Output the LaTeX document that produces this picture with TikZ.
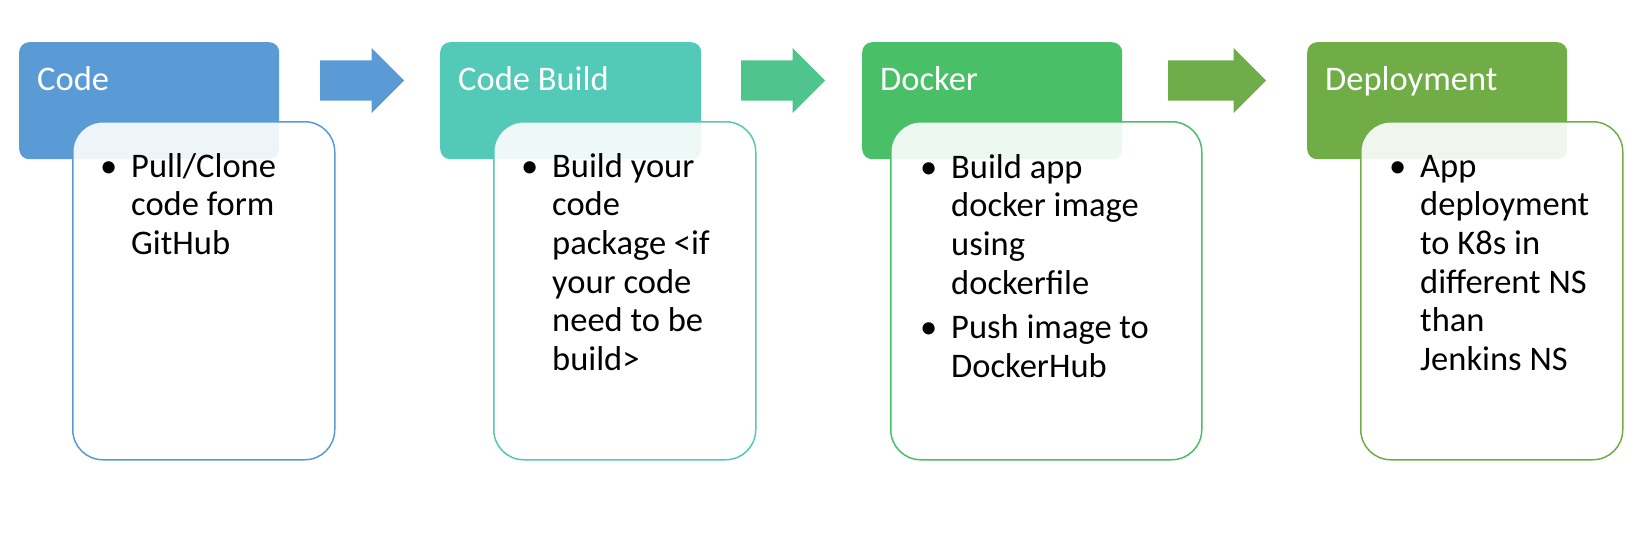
\documentclass[tikz,border=0pt]{standalone}
\usepackage{fontspec}
\setmainfont{Carlito}
\usetikzlibrary{shapes.arrows}
\definecolor{cA}{HTML}{5B9BD5}
\definecolor{cB}{HTML}{53C9B7}
\definecolor{cBa}{HTML}{50C48D}
\definecolor{cC}{HTML}{49BF67}
\definecolor{cCa}{HTML}{6EAD4A}
\definecolor{cD}{HTML}{70AD47}
\newcommand\bitem[1]{\hangindent=31pt\hangafter=1\noindent\makebox[31pt][l]{\textbullet}#1\par}
\tikzset{
  hdr/.style={rectangle, rounded corners=10pt, inner sep=0pt, minimum width=260pt, minimum height=117pt, anchor=north west},
  bodybox/.style={rectangle, rounded corners=30pt, line width=1.5pt, fill=white, fill opacity=0.9, inner sep=0pt, minimum width=262pt, minimum height=338pt, anchor=north west},
  title/.style={anchor=base west, inner sep=0pt, text=white, font=\fontsize{34.5pt}{38.7pt}\selectfont},
  bodytext/.style={anchor=base west, inner sep=0pt, text=black, font=\fontsize{34.5pt}{38.7pt}\selectfont},
  blockarrow/.style={single arrow, inner xsep=0pt, inner ysep=20pt, single arrow head extend=12.5pt, single arrow tip angle=90, anchor=west, draw=none}
}
\newcommand\btext[1]{\parbox[t]{300pt}{\setlength{\parskip}{6pt}\setlength{\parindent}{0pt}#1}}
\begin{document}
\begin{tikzpicture}[x=1pt,y=-1pt]
\useasboundingbox (0,0) rectangle (1643,547);
\fill[white] (0,0) rectangle (1643,547);
% headers
\node[hdr, fill=cA] (h1) at (19,42) {};
\node[hdr, fill=cB, minimum width=261pt] (h2) at (440,42) {};
\node[hdr, fill=cC] (h3) at (862,42) {};
\node[hdr, fill=cD] (h4) at (1307,42) {};
% header titles
\node[title] (t1) at (37,90) {Code};
\node[title] (t2) at (458,90) {Code Build};
\node[title] (t3) at (880,90) {Docker};
\node[title] (t4) at (1325,90) {Deployment};
% body boxes
\node[bodybox, draw=cA] (b1) at (72,121) {};
\node[bodybox, draw=cB] (b2) at (493,121) {};
\node[bodybox, draw=cC, minimum width=311pt] (b3) at (890,121) {};
\node[bodybox, draw=cD] (b4) at (1360,121) {};
% body texts
\node[bodytext] (l1) at (100,177) {\btext{\bitem{Pull/Clone\\code form\\GitHub}}};
\node[bodytext] (l2) at (521,177) {\btext{\bitem{Build your\\code\\package <if\\your code\\need to be\\build>}}};
\node[bodytext] (l3) at (920,178) {\btext{\bitem{Build app\\docker image\\using\\dockerfile}\bitem{Push image to\\DockerHub}}};
\node[bodytext] (l4) at (1389,177) {\btext{\bitem{App\\deployment\\to K8s in\\different NS\\than\\Jenkins NS}}};
% arrows
\node[blockarrow, fill=cA, minimum height=84pt] (a1) at (320,80.5) {};
\node[blockarrow, fill=cBa, minimum height=84pt] (a2) at (741,80.5) {};
\node[blockarrow, fill=cCa, minimum height=98pt] (a3) at (1168,80.5) {};
\end{tikzpicture}
\end{document}
